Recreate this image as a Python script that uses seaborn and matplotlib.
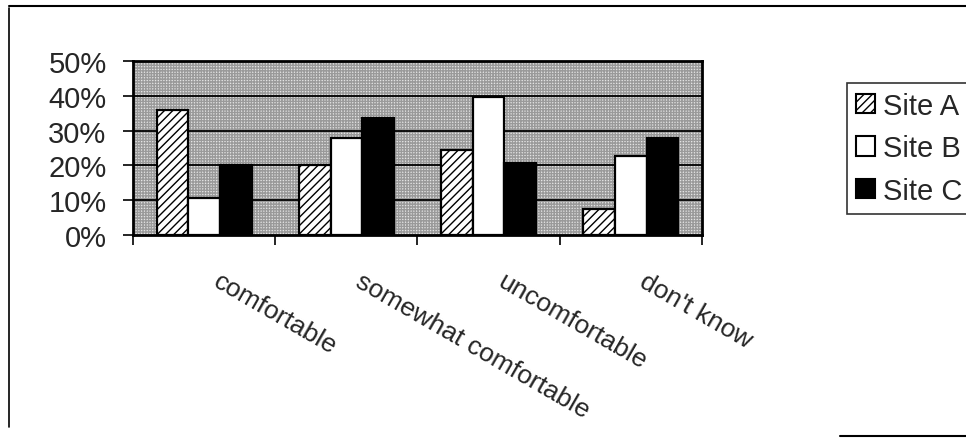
import matplotlib
matplotlib.use("Agg")
import matplotlib.pyplot as plt
import seaborn as sns
import pandas as pd
from matplotlib.patches import Patch, Rectangle
from matplotlib.lines import Line2D
from matplotlib.ticker import PercentFormatter, FixedLocator
from matplotlib.transforms import ScaledTranslation

categories = ["comfortable", "somewhat comfortable", "uncomfortable", "don't know"]
sites = ["Site A", "Site B", "Site C"]
site_a = [36.0, 20.0, 24.4, 7.5]
site_b = [10.5, 27.8, 39.6, 22.6]
site_c = [20.2, 33.5, 20.6, 28.0]
y_ticks = [0, 10, 20, 30, 40, 50]

sns.set_theme(style="white")
plt.rcParams["font.family"] = ["Liberation Sans", "DejaVu Sans"]
plt.rcParams["hatch.linewidth"] = 1.0

rows = []
for site, vals in zip(sites, [site_a, site_b, site_c]):
    for cat, v in zip(categories, vals):
        rows.append({"response": cat, "site": site, "value": v})
df = pd.DataFrame(rows)

DPI = 100
fig = plt.figure(figsize=(9.66, 4.39), dpi=DPI)
fig.patch.set_facecolor("white")
W, H = 966, 439
ax = fig.add_axes([133 / W, 1 - 236 / H, (702 - 133) / W, (236 - 62) / H])

# stippled background
bg = Rectangle((0, 0), 1, 1, transform=ax.transAxes, facecolor="#e4e4e4",
               edgecolor="#9a9a9a", linewidth=0, hatch="++++++", zorder=0)
ax.add_patch(bg)
ax.patch.set_visible(False)

sns.barplot(data=df, x="response", y="value", hue="site", order=categories,
            hue_order=sites, palette=["white", "white", "black"], width=0.667,
            edgecolor="black", linewidth=1.6, saturation=1, legend=False,
            errorbar=None, ax=ax, zorder=3)
for bar in ax.containers[0]:
    bar.set_hatch("////")

ax.set_xlim(-0.5, 3.5)
ax.set_ylim(0, 50)
ax.set_yticks(y_ticks)
ax.yaxis.set_major_formatter(PercentFormatter(xmax=100, decimals=0))
for y in y_ticks[1:-1]:
    ax.axhline(y, color="black", lw=1.3, zorder=1)

ax.set_xlabel("")
ax.set_ylabel("")
for s in ax.spines.values():
    s.set_visible(True)
    s.set_color("black")
    s.set_linewidth(2.0)
    s.set_zorder(5)

ax.tick_params(axis="y", which="major", direction="out", length=7, width=1.2,
               color="black", pad=12, labelsize=21, left=True)
ax.xaxis.set_minor_locator(FixedLocator([-0.5, 0.5, 1.5, 2.5, 3.5]))
ax.tick_params(axis="x", which="minor", direction="out", length=7, width=1.2,
               color="black", bottom=True)
ax.tick_params(axis="x", which="major", length=0, pad=24, labelsize=19)
ax.set_xticks(range(len(categories)))
ax.set_xticklabels(categories, rotation=-30, ha="left", va="top",
                   rotation_mode="anchor")
off = ScaledTranslation(17 / DPI, 0, fig.dpi_scale_trans)
for lab in ax.get_xticklabels():
    lab.set_transform(lab.get_transform() + off)

handles = [
    Patch(facecolor="white", edgecolor="black", hatch="////", linewidth=1.5),
    Patch(facecolor="white", edgecolor="black", linewidth=1.5),
    Patch(facecolor="black", edgecolor="black", linewidth=1.5),
]
leg = fig.legend(handles, sites, loc="upper left",
                 bbox_to_anchor=(847 / W, 1 - 84 / H), fontsize=21,
                 frameon=True, fancybox=False, shadow=False,
                 handlelength=0.65, handleheight=0.65, handletextpad=0.3,
                 borderpad=0.3, labelspacing=0.5, borderaxespad=0)
leg.get_frame().set_edgecolor("black")
leg.get_frame().set_linewidth(1.2)

# outer chart border (partially visible as in the scan)
fig.add_artist(Line2D([9 / W, 9 / W], [1 - 9 / H, 1 - 428 / H], color="black", lw=1.2))
fig.add_artist(Line2D([9 / W, 1.0], [1 - 7 / H, 1 - 7 / H], color="black", lw=1.5))
fig.add_artist(Line2D([840 / W, 1.0], [1 - 437 / H, 1 - 437 / H], color="black", lw=1.5))

fig.savefig("out.png", dpi=DPI, facecolor="white")
